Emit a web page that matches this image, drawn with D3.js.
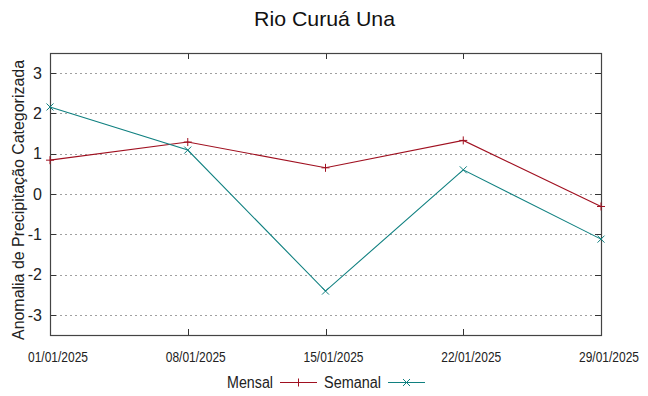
<!DOCTYPE html>
<html><head><meta charset="utf-8">
<script src="https://cdn.jsdelivr.net/npm/d3@7"></script>
<style>body{margin:0;background:#fff}svg{display:block}</style>
</head><body>
<svg id="c" width="648" height="396"></svg>
<script>
const dates = ["2025-01-01","2025-01-08","2025-01-15","2025-01-22","2025-01-29"];
const tickLabels = ["01/01/2025","08/01/2025","15/01/2025","22/01/2025","29/01/2025"];
const mensal = [0.84, 1.29, 0.65, 1.33, -0.31];
const semanal = [2.16, 1.09, -2.41, 0.60, -1.12];
const yTicks = [-3,-2,-1,0,1,2,3];

const svg = d3.select("#c");
const L=50, R=601, T=53, B=335;
const parse = d3.utcParse("%Y-%m-%d");
const x = d3.scaleUtc().domain([parse(dates[0]), parse(dates[4])]).range([L,R]);
const y = d3.scaleLinear().domain([-3.5,3.5]).range([B,T]);
const font = "Liberation Sans, Arial, sans-serif";

// grid
svg.append("g").selectAll("line").data(yTicks).join("line")
  .attr("x1",L).attr("x2",R).attr("y1",d=>Math.round(y(d))+0.5).attr("y2",d=>Math.round(y(d))+0.5)
  .attr("stroke","#a0a0a0").attr("stroke-width",1).attr("stroke-dasharray","2,3");

// ticks
const tk = svg.append("g").attr("stroke","#333").attr("stroke-width",1);
yTicks.forEach(d=>{
  const yy=Math.round(y(d))+0.5;
  tk.append("line").attr("x1",L).attr("x2",L+6).attr("y1",yy).attr("y2",yy);
  tk.append("line").attr("x1",R-6).attr("x2",R).attr("y1",yy).attr("y2",yy);
});
dates.forEach(d=>{
  const xx=Math.round(x(parse(d)))+0.5;
  tk.append("line").attr("x1",xx).attr("x2",xx).attr("y1",B).attr("y2",B-6);
  tk.append("line").attr("x1",xx).attr("x2",xx).attr("y1",T).attr("y2",T+6);
});

// border
svg.append("rect").attr("x",L+0.5).attr("y",T+0.5).attr("width",R-L).attr("height",B-T)
  .attr("fill","none").attr("stroke","#444").attr("stroke-width",1.2);

// y tick labels
svg.append("g").selectAll("text").data(yTicks).join("text")
  .attr("x",L-8).attr("y",d=>y(d)).attr("dy","0.36em").attr("text-anchor","end")
  .attr("font-family",font).attr("font-size",16).attr("fill","#222").text(d=>d);

// x tick labels
svg.append("g").selectAll("text").data(dates).join("text")
  .attr("x",d=>x(parse(d))+8).attr("y",362).attr("text-anchor","middle")
  .attr("font-family",font).attr("font-size",15)
  .attr("textLength",60).attr("lengthAdjust","spacingAndGlyphs")
  .attr("fill","#222").text((d,i)=>tickLabels[i]);

// title
svg.append("text").attr("x",324.5).attr("y",26).attr("text-anchor","middle")
  .attr("font-family",font).attr("font-size",21).attr("textLength",141).attr("lengthAdjust","spacingAndGlyphs")
  .attr("fill","#111").text("Rio Curuá Una");

// y label
svg.append("text").attr("transform","translate(24,200) rotate(-90)").attr("text-anchor","middle")
  .attr("font-family",font).attr("font-size",16).attr("textLength",280).attr("lengthAdjust","spacingAndGlyphs")
  .attr("fill","#222").text("Anomalia de Precipitação Categorizada");

const cM="#a01020", cS="#108080";
const line = d3.line().x((d,i)=>x(parse(dates[i]))).y(d=>y(d));
svg.append("path").datum(mensal).attr("d",line).attr("fill","none").attr("stroke",cM).attr("stroke-width",1.1);
svg.append("path").datum(semanal).attr("d",line).attr("fill","none").attr("stroke",cS).attr("stroke-width",1.1);

function plus(g,cx,cy,c){const s=4;
  g.append("path").attr("d",`M${cx-s},${cy}H${cx+s}M${cx},${cy-s}V${cy+s}`).attr("stroke",c).attr("stroke-width",1).attr("fill","none");}
function cross(g,cx,cy,c){const s=3.5;
  g.append("path").attr("d",`M${cx-s},${cy-s}L${cx+s},${cy+s}M${cx-s},${cy+s}L${cx+s},${cy-s}`).attr("stroke",c).attr("stroke-width",1).attr("fill","none");}
const mg=svg.append("g");
mensal.forEach((v,i)=>plus(mg,x(parse(dates[i])),y(v),cM));
semanal.forEach((v,i)=>cross(mg,x(parse(dates[i])),y(v),cS));

// legend
svg.append("text").attr("x",227).attr("y",388).attr("font-family",font).attr("font-size",16)
  .attr("textLength",46).attr("lengthAdjust","spacingAndGlyphs").attr("fill","#222").text("Mensal");
svg.append("line").attr("x1",280).attr("x2",317).attr("y1",382.5).attr("y2",382.5).attr("stroke",cM).attr("stroke-width",1.1);
plus(svg,298.5,382.5,cM);
svg.append("text").attr("x",324).attr("y",388).attr("font-family",font).attr("font-size",16)
  .attr("textLength",57).attr("lengthAdjust","spacingAndGlyphs").attr("fill","#222").text("Semanal");
svg.append("line").attr("x1",388).attr("x2",425).attr("y1",382.5).attr("y2",382.5).attr("stroke",cS).attr("stroke-width",1.1);
cross(svg,406.5,382.5,cS);
</script>
</body></html>
